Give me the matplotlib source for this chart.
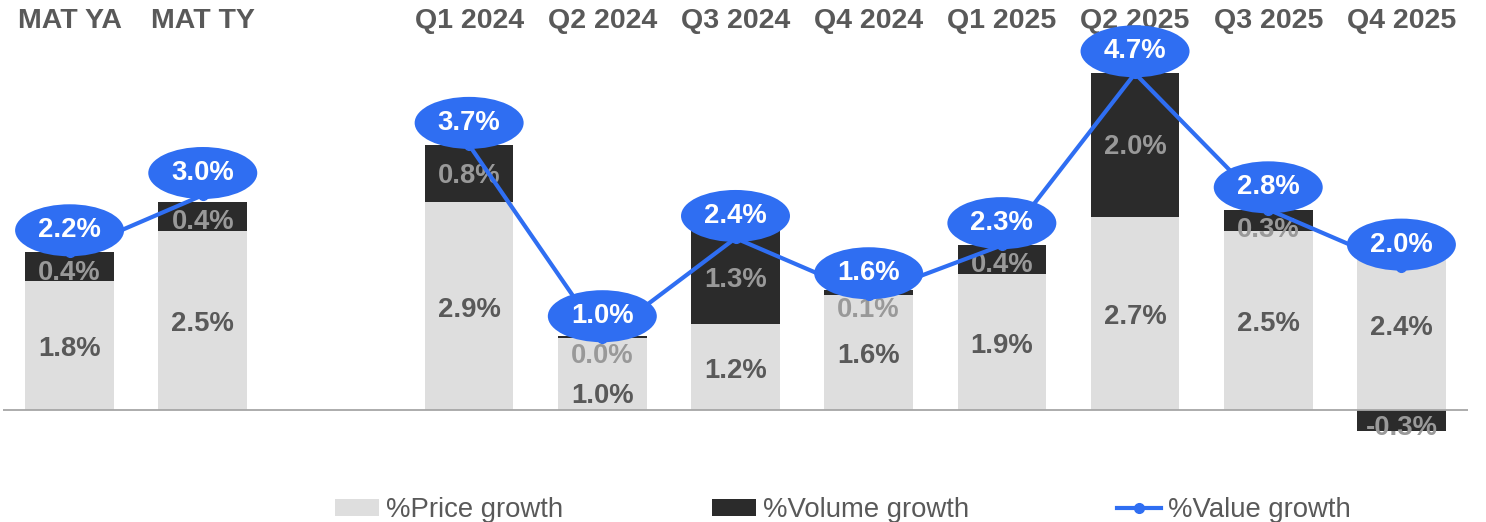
import numpy as np
import matplotlib.pyplot as plt
from matplotlib.patches import Ellipse, Patch
from matplotlib.lines import Line2D

plt.rcParams['font.family'] = ['Liberation Sans', 'DejaVu Sans']

# data
categories = ['MAT YA', 'MAT TY', 'Q1 2024', 'Q2 2024', 'Q3 2024', 'Q4 2024',
              'Q1 2025', 'Q2 2025', 'Q3 2025', 'Q4 2025']
price_growth = [1.8, 2.5, 2.9, 1.0, 1.2, 1.6, 1.9, 2.7, 2.5, 2.4]
volume_growth = [0.4, 0.4, 0.8, 0.03, 1.3, 0.07, 0.4, 2.0, 0.3, -0.3]
value_growth = [2.2, 3.0, 3.7, 1.0, 2.4, 1.6, 2.3, 4.7, 2.8, 2.0]
n_mat = 2  # first columns are MAT, then a gap, then quarters

# colours
light = '#DEDEDE'
dark = '#2B2B2B'
blue = '#2F6EF2'
grey_text = '#595959'
vol_text = '#999999'
fs = 19.8

# one empty slot between the MAT columns and the quarters
pos = np.array([i if i < n_mat else i + 1 for i in range(len(categories))])

fig = plt.figure(figsize=(14.86, 5.22), dpi=100)
ax = fig.add_axes([3 / 1486, 72 / 522, 1465 / 1486, 450 / 522])
px = 71.6  # pixels per 1%
ax.set_xlim(-0.5, 10.5)
ax.set_ylim(-40 / px, 410 / px)
ax.axis('off')

bw = 0.665
price = np.array(price_growth)
vol = np.array(volume_growth)
vol_bottom = np.where(vol >= 0, price, 0)

ax.bar(pos, price, width=bw, color=light, zorder=2)
ax.bar(pos, vol, width=bw, bottom=vol_bottom, color=dark, zorder=2)
ax.axhline(0, color='#A6A6A6', lw=1.3, zorder=3)

# bar labels
for x, p, v, b in zip(pos, price, vol, vol_bottom):
    if v >= 0:
        vy = min(b + v / 2, b + v - 0.25) - 0.03
        py = min(p / 2 - 0.05, vy - 0.55)
    else:
        vy = v / 2 - 0.1
        py = p / 2 - 0.05
    ax.text(x, py, f'{p:.1f}%', ha='center', va='center', fontsize=fs,
            fontweight='bold', color=grey_text, zorder=4)
    ax.text(x, vy, f'{v:.1f}%', ha='center', va='center', fontsize=fs,
            fontweight='bold', color=vol_text, zorder=4)

# value line, broken at the gap between MAT and quarters
for sl in (slice(0, n_mat), slice(n_mat, None)):
    ax.plot(pos[sl], value_growth[sl], color=blue, lw=3, marker='o',
            markersize=7, zorder=5)

ew, eh = 109 / 133.2, 52 / px
for x, v in zip(pos, value_growth):
    cy = v + 0.31
    ax.add_patch(Ellipse((x, cy), ew, eh, facecolor=blue, edgecolor='none', zorder=6))
    ax.text(x, cy, f'{v:.1f}%', ha='center', va='center', fontsize=fs,
            fontweight='bold', color='white', zorder=7)

# column headers
for x, c in zip(pos, categories):
    ax.text(x, 389 / px, c, ha='center', va='center', fontsize=20.5,
            fontweight='bold', color=grey_text)

# legend
handles = [Patch(facecolor=light, edgecolor='none'),
           Patch(facecolor=dark, edgecolor='none'),
           Line2D([], [], color=blue, lw=3, marker='o', markersize=7)]
labels = ['%Price growth', '%Volume growth', '%Value growth']
leg = fig.legend(handles, labels, loc='center', bbox_to_anchor=(843 / 1486, 12 / 522),
                 ncol=3, frameon=False, fontsize=fs, handlelength=1.6,
                 handleheight=0.55, handletextpad=0.25, columnspacing=5.4,
                 borderpad=0)
for t in leg.get_texts():
    t.set_color(grey_text)

fig.savefig('out.png', dpi=100)
